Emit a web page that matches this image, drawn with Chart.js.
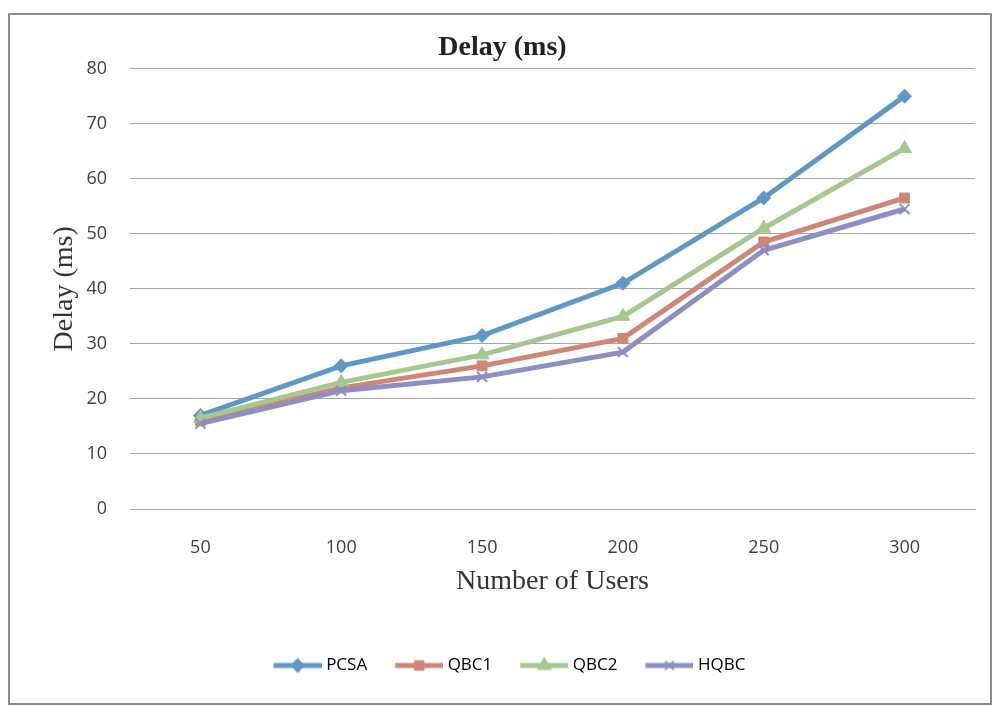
<!DOCTYPE html>
<html lang="en">

<head>
  <meta charset="UTF-8">
  <title>Delay (ms)</title>
  <script src="https://cdn.jsdelivr.net/npm/chart.js"></script>
  <style>
    body { margin: 0; background: #fff; }
    #frame { position: absolute; left: 8px; top: 13px; width: 980px; height: 688px; border: 2px solid #8c8c8c; pointer-events: none; }
    #delayChart { position: absolute; left: 0; top: 0; }
  </style>
</head>

<body>
  <canvas id="delayChart" width="994" height="706"></canvas>
  <div id="frame"></div>

  <script>
    const users = ["50", "100", "150", "200", "250", "300"];
    const pcsa = [17, 26, 31.5, 41, 56.5, 75];
    const qbc1 = [16, 22, 26, 31, 48.5, 56.5];
    const qbc2 = [16.5, 23, 28, 35, 51, 65.5];
    const hqbc = [15.5, 21.5, 24, 28.5, 47, 54.5];

    const series = [
      { label: "PCSA", data: pcsa, color: "#5f97c6", style: "rectRot", r: 7 },
      { label: "QBC1", data: qbc1, color: "#cf8676", style: "rect", r: 7 },
      { label: "QBC2", data: qbc2, color: "#a5c88f", style: "triangle", r: 8 },
      { label: "HQBC", data: hqbc, color: "#8c8ec4", style: "crossRot", r: 7 }
    ];

    // legend icon: line with the marker in the middle (left part left empty as spacing)
    function legendIcon(s) {
      const c = document.createElement("canvas");
      c.width = 66; c.height = 18;
      const ctx = c.getContext("2d");
      ctx.strokeStyle = s.color;
      ctx.fillStyle = s.color;
      ctx.lineWidth = 5;
      ctx.beginPath(); ctx.moveTo(18, 9); ctx.lineTo(66, 9); ctx.stroke();
      ctx.lineWidth = 2;
      Chart.helpers.drawPoint(ctx, { pointStyle: s.style, radius: s.r - 1, borderWidth: 2 }, 42, 9);
      return c;
    }

    new Chart(document.getElementById("delayChart"), {
      type: "line",
      data: {
        labels: users,
        datasets: series.map((s, i) => ({
          label: s.label,
          data: s.data,
          borderColor: s.color,
          backgroundColor: s.color,
          borderWidth: 5,
          pointStyle: s.style,
          pointRadius: s.r,
          pointBorderWidth: s.style === "crossRot" ? 2 : 1,
          tension: 0,
          order: 3 - i
        }))
      },
      options: {
        responsive: false,
        animation: false,
        layout: { padding: { left: 30, right: 19, top: 0, bottom: 22 } },
        plugins: {
          title: {
            display: true,
            text: "Delay (ms)",
            color: "#222",
            font: { family: "Liberation Serif", size: 28, weight: "bold" },
            padding: { top: 31, bottom: 4 }
          },
          legend: {
            position: "bottom",
            labels: {
              color: "#333",
              font: { family: "Open Sans", size: 17 },
              usePointStyle: true,
              pointStyleWidth: 58,
              padding: 14,
              generateLabels: () => series.map((s, i) => ({
                text: s.label,
                pointStyle: legendIcon(s),
                fillStyle: s.color,
                strokeStyle: s.color,
                lineWidth: 0,
                datasetIndex: i
              }))
            }
          },
          tooltip: { enabled: false }
        },
        scales: {
          x: {
            offset: true,
            afterFit: s => { s.height = 134; },
            grid: { display: false, drawTicks: false },
            border: { color: "#a6a6a6", width: 1 },
            ticks: { color: "#404040", font: { family: "Open Sans", size: 18 }, padding: 28 },
            title: {
              display: true,
              text: "Number of Users",
              color: "#333",
              font: { family: "Liberation Serif", size: 28 },
              padding: { top: 0, bottom: 45 }
            }
          },
          y: {
            min: 0,
            max: 80,
            afterFit: s => { s.width = 100; },
            ticks: { stepSize: 10, color: "#404040", font: { family: "Open Sans", size: 18 }, padding: 23 },
            grid: { color: "#a6a6a6", drawTicks: false },
            border: { display: false },
            title: {
              display: true,
              text: "Delay (ms)",
              color: "#333",
              font: { family: "Liberation Serif", size: 28 },
              padding: { top: 18, bottom: 0 }
            }
          }
        }
      }
    });
  </script>
</body>

</html>
